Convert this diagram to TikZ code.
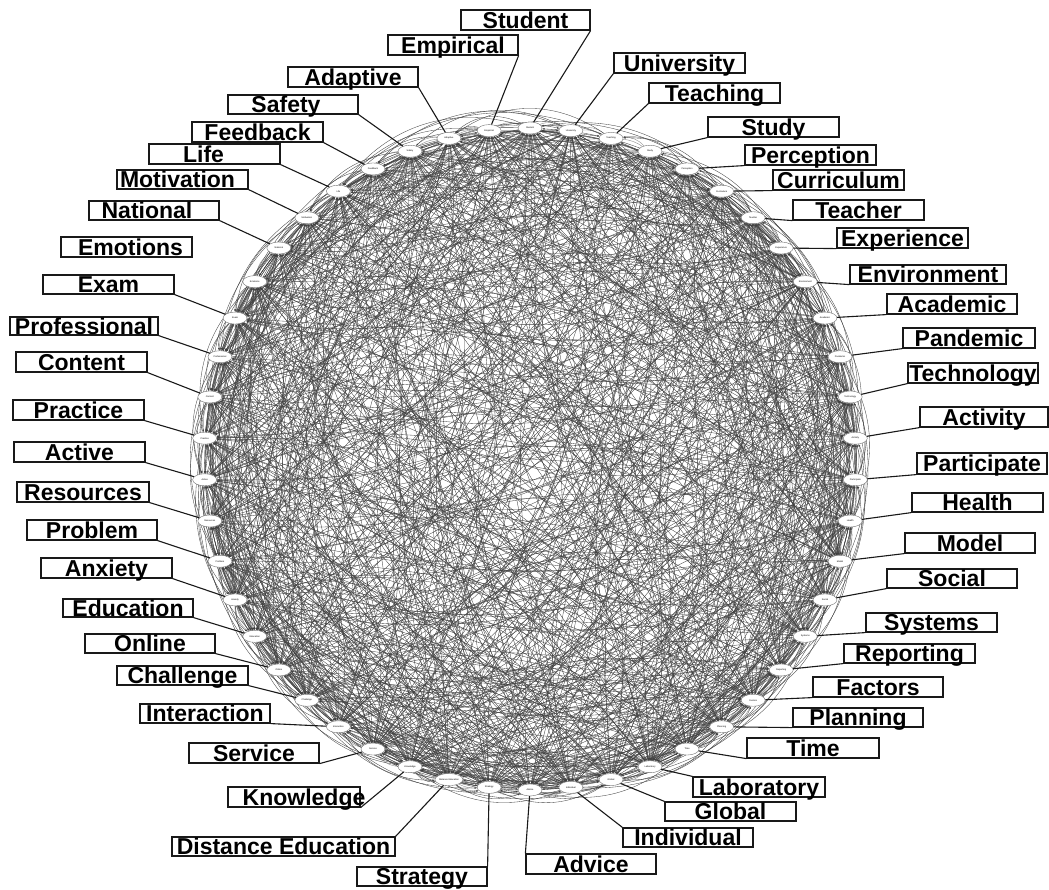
\documentclass[tikz,border=0pt]{standalone}
\usepackage{fontspec}
\setmainfont{Liberation Sans}
\usetikzlibrary{shapes.geometric,arrows.meta}
\pgfdeclarelayer{bg}
\pgfsetlayers{bg,main}
\newcount\myhh
\newcount\myqq
\newcount\mycc
\newcount\myss
\newcommand\Lbl[7]{%
  \node[lab,minimum width={#4-#2},minimum height={#5-#3}] (#1) at ({(#2+#4)/2},{890-(#3+#5)/2}) {\makebox[0pt]{\hspace*{#7pt}#6}};}
\begin{document}
\begin{tikzpicture}[x=1pt,y=1pt,
  kw/.style={ellipse,draw=black!55,line width=0.4pt,fill=white,minimum width=24pt,minimum height=12pt,inner sep=0pt,font=\fontsize{2.3}{2.3}\selectfont},
  lab/.style={draw=black!90,line width=1.2pt,rectangle,inner sep=0pt,text height=17pt,text depth=0pt,font=\bfseries\fontsize{23}{23}\selectfont},
  lead/.style={black!90,line width=1.1pt},
  edge/.style={black!75,line width=0.34pt,-{Latex[length=2.4pt,width=1.8pt]}},
  ringe/.style={black!45,line width=0.4pt}]
\useasboundingbox (0,0) rectangle (1049,890);
% keyword nodes on the circle
\foreach \k/\w in {0/Student,1/University,2/Teaching,3/Study,4/Perception,5/Curriculum,6/Teacher,7/Experience,8/Environment,9/Academic,10/Pandemic,11/Technology,12/Activity,13/Participate,14/Health,15/Model,16/Social,17/Systems,18/Reporting,19/Factors,20/Planning,21/Time,22/Laboratory,23/Global,24/Individual,25/Advice,26/Strategy,27/Distance Education,28/Knowledge,29/Service,30/Interaction,31/Challenge,32/Online,33/Education,34/Anxiety,35/Problem,36/Resources,37/Active,38/Practice,39/Content,40/Professional,41/Exam,42/Emotions,43/National,44/Motivation,45/Life,46/Feedback,47/Safety,48/Adaptive,49/Empirical}
  \node[kw] (n\k) at ({530+326*cos(90-7.2*\k)},{431+331*sin(90-7.2*\k)}) {\w};
% edges
\begin{pgfonlayer}{bg}
\foreach \k in {0,...,49}{
  \pgfmathtruncatemacro\m{mod(\k+1,50)}
  \draw[ringe] (n\k) to[bend left=14] (n\m);
  \draw[ringe] (n\k) to[bend left=24] (n\m);
}
\foreach \i in {0,...,48}{
  \pgfmathtruncatemacro\s{\i+1}
  \foreach \j in {\s,...,49}{
    \myhh=\numexpr \i*\i*31+\j*\j*17+\i*\j*13+\i*7+\j*3\relax
    \myqq=\myhh \divide\myqq by 97 \multiply\myqq by 97 \advance\myhh by -\myqq
    \ifnum\myhh<88
      \mycc=\numexpr \i*5+\j*\j*3+\i*\i+\j\relax
      \myqq=\mycc \divide\myqq by 7 \multiply\myqq by 7 \advance\mycc by -\myqq
      % chords that would be exactly horizontal or vertical get a bend
      \myss=\numexpr \i+\j\relax
      \myqq=\myss \divide\myqq by 25 \multiply\myqq by 25 \advance\myss by -\myqq
      \ifnum\myss=0 \ifnum\mycc>3 \mycc=0 \fi\fi
      \ifcase\mycc
        \draw[edge] (n\i) to[bend left=15] (n\j);
      \or
        \draw[edge] (n\j) to[bend left=15] (n\i);
      \or
        \draw[edge] (n\i) to[bend right=35] (n\j);
      \or
        \draw[edge] (n\j) to[bend right=28] (n\i);
      \or
        \draw[edge] (n\j) -- (n\i);
      \else
        \draw[edge] (n\i) -- (n\j);
      \fi
    \fi
  }
}
\end{pgfonlayer}
% label boxes: name, left, top, right, bottom (image px), text, 2*dx
\Lbl{Lst}{461}{10}{590}{30}{Student}{0}
\Lbl{Lemp}{388}{35}{518}{55}{Empirical}{0}
\Lbl{Luni}{614}{53}{745}{73}{University}{0}
\Lbl{Ladp}{288}{67}{418}{87}{Adaptive}{0}
\Lbl{Ltch}{649}{83}{780}{103}{Teaching}{0}
\Lbl{Lsaf}{228}{95}{358}{114}{Safety}{-14}
\Lbl{Lstu}{708}{117}{839}{137}{Study}{0}
\Lbl{Lfee}{192}{122}{323}{142}{Feedback}{0}
\Lbl{Lper}{745}{145}{876}{165}{Perception}{0}
\Lbl{Llif}{149}{144}{280}{164}{Life}{-22}
\Lbl{Lcur}{773}{170}{904}{190}{Curriculum}{0}
\Lbl{Lmot}{117}{170}{248}{189}{Motivation}{-10}
\Lbl{Lnat}{89}{201}{219}{220}{National}{-14}
\Lbl{Ltea}{793}{200}{924}{220}{Teacher}{0}
\Lbl{Lemo}{61}{237}{192}{257}{Emotions}{8}
\Lbl{Lexp}{837}{228}{968}{248}{Experience}{0}
\Lbl{Lexa}{43}{275}{174}{294}{Exam}{0}
\Lbl{Lenv}{850}{265}{1006}{284}{Environment}{0}
\Lbl{Lpro}{10}{317}{158}{335}{Professional}{0}
\Lbl{Laca}{887}{294}{1017}{314}{Academic}{0}
\Lbl{Lcon}{16}{352}{147}{372}{Content}{0}
\Lbl{Lpan}{903}{328}{1035}{348}{Pandemic}{0}
\Lbl{Ltec}{908}{363}{1038}{383}{Technology}{0}
\Lbl{Lpra}{13}{400}{144}{420}{Practice}{0}
\Lbl{Lact}{920}{407}{1048}{427}{Activity}{0}
\Lbl{Lacv}{14}{442}{145}{462}{Active}{0}
\Lbl{Lpar}{917}{453}{1047}{474}{Participate}{0}
\Lbl{Lres}{17}{482}{149}{502}{Resources}{0}
\Lbl{Lhea}{912}{493}{1043}{512}{Health}{0}
\Lbl{Lprb}{27}{520}{157}{540}{Problem}{0}
\Lbl{Lmod}{905}{533}{1035}{553}{Model}{0}
\Lbl{Lanx}{41}{558}{172}{578}{Anxiety}{0}
\Lbl{Lsoc}{887}{569}{1017}{588}{Social}{0}
\Lbl{Ledu}{63}{599}{193}{617}{Education}{0}
\Lbl{Lsys}{866}{613}{997}{632}{Systems}{0}
\Lbl{Lonl}{85}{634}{215}{653}{Online}{0}
\Lbl{Lrep}{844}{644}{975}{663}{Reporting}{0}
\Lbl{Lcha}{117}{666}{248}{685}{Challenge}{0}
\Lbl{Lfac}{813}{677}{943}{697}{Factors}{0}
\Lbl{Lint}{140}{704}{270}{723}{Interaction}{0}
\Lbl{Lpla}{793}{708}{923}{727}{Planning}{0}
\Lbl{Lser}{189}{743}{319}{763}{Service}{0}
\Lbl{Ltim}{747}{738}{879}{758}{Time}{0}
\Lbl{Llab}{693}{777}{825}{797}{Laboratory}{0}
\Lbl{Lkno}{228}{787}{360}{807}{Knowledge}{20}
\Lbl{Lglo}{665}{802}{796}{821}{Global}{0}
\Lbl{Lind}{623}{828}{753}{847}{Individual}{0}
\Lbl{Ldis}{172}{837}{395}{856}{Distance Education}{0}
\Lbl{Ladv}{526}{854}{656}{874}{Advice}{0}
\Lbl{Lstr}{357}{867}{487}{886}{Strategy}{0}
% leader lines
\foreach \b/\a/\k in {Lst/south east/0,Lemp/south east/49,Ladp/south east/48,Lsaf/south east/47,Lfee/south east/46,Llif/south east/45,Lmot/south east/44,Lnat/south east/43,Lexa/south east/41,Lpro/south east/40,Lcon/south east/39,Lpra/south east/38,Lacv/south east/37,Lres/south east/36,Lprb/south east/35,Lanx/south east/34,Ledu/south east/33,Lonl/south east/32,Lcha/south east/31,Lint/south east/30,Lser/south east/29,Lkno/south east/28,Ldis/north east/27,Lstr/north east/26,Ladv/north west/25,Lind/north west/24,Lglo/north west/23,Llab/north west/22,Ltim/south west/21,Lpla/south west/20,Lfac/south west/19,Lrep/south west/18,Lsys/south west/17,Lsoc/south west/16,Lmod/south west/15,Lhea/south west/14,Lpar/south west/13,Lact/south west/12,Ltec/south west/11,Lpan/south west/10,Laca/south west/9,Lenv/south west/8,Lexp/south west/7,Ltea/south west/6,Lcur/south west/5,Lper/south west/4,Lstu/south west/3,Ltch/south west/2,Luni/south west/1}
  \draw[lead] (\b.\a) -- (n\k);
\end{tikzpicture}
\end{document}
